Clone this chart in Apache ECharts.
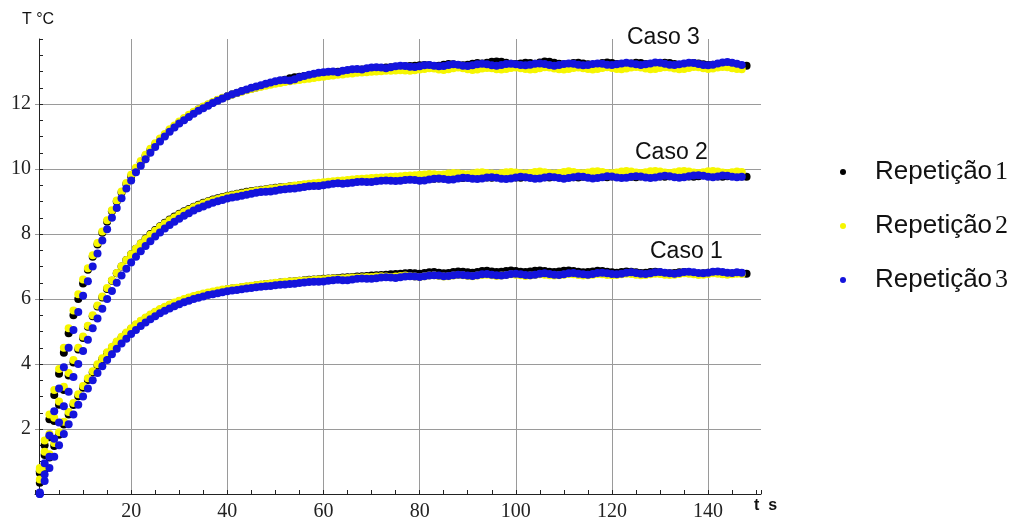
<!DOCTYPE html>
<html>
<head>
<meta charset="utf-8">
<script src="https://cdn.jsdelivr.net/npm/echarts@6/dist/echarts.min.js"></script>
<style>
html,body{margin:0;padding:0;background:#fff;}
#chart{width:1028px;height:523px;}
</style>
</head>
<body>
<div id="chart"></div>
<script>
// time of first sample (s), one sample per second
const T_START = 1;

const xTicks = [20, 40, 60, 80, 100, 120, 140];
const yTicks = [2, 4, 6, 8, 10, 12];
const repNames = ['Repetição 1', 'Repetição 2', 'Repetição 3'];
const caseLabels = ['Caso 1', 'Caso 2', 'Caso 3'];

// ---------- Caso 3 ----------
const caso3Rep1 = [
0.7,1.5,2.3,3.05,3.7,4.35,4.95,5.5,6.0,6.48,
6.9,7.3,7.68,8.04,8.38,8.7,9.0,9.28,9.54,9.78,
10.0,10.21,10.4,10.58,10.75,10.91,11.05,11.19,11.31,11.43,
11.54,11.64,11.74,11.83,11.91,11.98,12.05,12.12,12.18,12.24,
12.29,12.34,12.39,12.43,12.47,12.51,12.55,12.59,12.63,12.67,
12.71,12.75,12.79,12.82,12.84,12.86,12.88,12.9,12.92,12.94,
12.96,12.97,12.99,13.0,13.02,13.03,13.05,13.06,13.08,13.09,
13.1,13.11,13.12,13.13,13.14,13.15,13.16,13.17,13.18,13.19,
13.2,13.19,13.17,13.18,13.21,13.23,13.22,13.2,13.19,13.21,
13.24,13.26,13.25,13.27,13.3,13.31,13.3,13.27,13.24,13.23,
13.25,13.27,13.26,13.24,13.28,13.31,13.3,13.27,13.24,13.22,
13.23,13.26,13.27,13.25,13.22,13.21,13.23,13.26,13.28,13.26,
13.23,13.21,13.22,13.25,13.27,13.26,13.23,13.21,13.22,13.25,
13.27,13.26,13.23,13.2,13.21,13.24,13.26,13.25,13.22,13.2,
13.21,13.23,13.25,13.24,13.21,13.19,13.18,13.18];
const caso3Rep2 = [
0.8,1.65,2.45,3.2,3.85,4.5,5.1,5.65,6.15,6.6,
6.95,7.35,7.72,8.08,8.42,8.73,9.03,9.31,9.57,9.82,
10.04,10.25,10.44,10.62,10.79,10.94,11.08,11.22,11.34,11.46,
11.57,11.67,11.76,11.84,11.92,11.99,12.06,12.13,12.19,12.24,
12.29,12.34,12.38,12.42,12.46,12.5,12.53,12.56,12.59,12.62,
12.65,12.68,12.7,12.72,12.74,12.76,12.78,12.8,12.82,12.84,
12.86,12.88,12.9,12.91,12.93,12.94,12.96,12.97,12.98,12.99,
13.0,13.01,13.02,13.02,13.03,13.04,13.03,13.02,13.04,13.06,
13.08,13.1,13.09,13.06,13.05,13.07,13.1,13.12,13.1,13.07,
13.05,13.06,13.09,13.11,13.1,13.07,13.06,13.08,13.11,13.12,
13.1,13.08,13.06,13.07,13.1,13.13,13.12,13.09,13.07,13.06,
13.08,13.11,13.12,13.1,13.08,13.06,13.08,13.11,13.13,13.11,
13.08,13.07,13.09,13.12,13.14,13.12,13.09,13.07,13.08,13.11,
13.13,13.12,13.09,13.07,13.08,13.11,13.14,13.13,13.1,13.08,
13.09,13.12,13.14,13.13,13.1,13.08,13.07];
const caso3Rep3 = [
0.05,0.95,1.8,2.55,3.25,3.9,4.5,5.05,5.6,6.1,
6.55,7.0,7.4,7.8,8.15,8.5,8.8,9.1,9.4,9.65,
9.9,10.1,10.3,10.5,10.68,10.85,11.0,11.15,11.28,11.4,
11.5,11.6,11.7,11.79,11.87,11.95,12.03,12.1,12.17,12.24,
12.3,12.35,12.4,12.45,12.5,12.54,12.58,12.62,12.66,12.7,
12.73,12.74,12.72,12.76,12.82,12.86,12.9,12.93,12.96,12.98,
12.99,13.0,12.98,13.02,13.05,13.07,13.08,13.06,13.1,13.12,
13.13,13.12,13.1,13.13,13.16,13.18,13.17,13.15,13.14,13.16,
13.19,13.2,13.18,13.16,13.17,13.2,13.22,13.21,13.18,13.17,
13.19,13.22,13.24,13.22,13.19,13.18,13.2,13.23,13.24,13.22,
13.2,13.19,13.21,13.24,13.25,13.23,13.2,13.18,13.2,13.23,
13.25,13.24,13.21,13.19,13.2,13.23,13.25,13.24,13.21,13.2,
13.22,13.25,13.27,13.25,13.22,13.2,13.22,13.25,13.28,13.27,
13.24,13.21,13.2,13.22,13.25,13.27,13.26,13.23,13.2,13.19,
13.21,13.25,13.28,13.29,13.27,13.24,13.2];

// ---------- Caso 2 ----------
const caso2Rep1 = [
0.65,1.2,1.75,2.25,2.75,3.2,3.65,4.05,4.45,4.8,
5.15,5.47,5.77,6.05,6.31,6.56,6.79,7.0,7.2,7.38,
7.55,7.71,7.86,8.0,8.12,8.24,8.35,8.45,8.54,8.62,
8.7,8.77,8.84,8.9,8.96,9.01,9.06,9.1,9.14,9.18,
9.21,9.24,9.27,9.3,9.32,9.34,9.36,9.38,9.4,9.42,
9.44,9.45,9.47,9.48,9.5,9.51,9.52,9.54,9.55,9.56,
9.57,9.58,9.6,9.61,9.62,9.63,9.63,9.64,9.65,9.66,
9.67,9.68,9.68,9.69,9.7,9.71,9.7,9.69,9.71,9.72,
9.73,9.72,9.7,9.71,9.74,9.76,9.75,9.73,9.72,9.74,
9.77,9.78,9.76,9.74,9.73,9.75,9.78,9.79,9.77,9.74,
9.73,9.75,9.78,9.8,9.78,9.75,9.74,9.76,9.79,9.8,
9.78,9.75,9.74,9.76,9.79,9.81,9.79,9.76,9.75,9.77,
9.8,9.81,9.79,9.76,9.75,9.77,9.8,9.82,9.8,9.77,
9.76,9.78,9.81,9.82,9.8,9.77,9.76,9.78,9.81,9.82,
9.8,9.77,9.76,9.78,9.8,9.79,9.77,9.76];
const caso2Rep2 = [
0.75,1.3,1.85,2.35,2.85,3.3,3.72,4.12,4.5,4.85,
5.18,5.5,5.8,6.08,6.34,6.58,6.8,7.01,7.2,7.38,
7.55,7.71,7.85,7.98,8.1,8.22,8.32,8.42,8.51,8.6,
8.68,8.75,8.82,8.88,8.94,8.99,9.04,9.08,9.12,9.16,
9.19,9.22,9.25,9.28,9.31,9.33,9.35,9.37,9.39,9.41,
9.43,9.45,9.47,9.49,9.51,9.53,9.55,9.56,9.58,9.59,
9.61,9.62,9.64,9.65,9.66,9.68,9.69,9.7,9.71,9.72,
9.73,9.74,9.75,9.76,9.77,9.78,9.79,9.8,9.81,9.82,
9.83,9.85,9.84,9.82,9.83,9.86,9.88,9.87,9.85,9.84,
9.86,9.89,9.9,9.88,9.86,9.85,9.87,9.9,9.91,9.89,
9.87,9.86,9.88,9.91,9.92,9.9,9.87,9.86,9.88,9.91,
9.93,9.91,9.88,9.87,9.89,9.92,9.93,9.91,9.88,9.87,
9.89,9.92,9.94,9.92,9.89,9.88,9.9,9.93,9.94,9.92,
9.89,9.88,9.9,9.93,9.94,9.92,9.89,9.88,9.9,9.93,
9.94,9.92,9.89,9.88,9.9,9.92,9.91];
const caso2Rep3 = [
0.0,0.6,1.15,1.7,2.2,2.7,3.15,3.6,4.0,4.4,
4.75,5.1,5.4,5.7,6.0,6.25,6.5,6.72,6.93,7.12,
7.3,7.47,7.63,7.78,7.92,8.05,8.17,8.28,8.38,8.47,
8.56,8.64,8.72,8.79,8.85,8.91,8.96,9.01,9.05,9.09,
9.12,9.15,9.18,9.21,9.24,9.27,9.29,9.3,9.31,9.33,
9.36,9.38,9.39,9.4,9.42,9.45,9.47,9.48,9.48,9.5,
9.52,9.55,9.56,9.55,9.56,9.58,9.6,9.61,9.6,9.6,
9.62,9.64,9.65,9.64,9.63,9.64,9.66,9.67,9.66,9.64,
9.65,9.68,9.7,9.71,9.69,9.67,9.68,9.71,9.73,9.72,
9.7,9.69,9.71,9.74,9.75,9.73,9.7,9.69,9.71,9.74,
9.76,9.75,9.72,9.7,9.71,9.74,9.76,9.75,9.72,9.7,
9.72,9.75,9.77,9.76,9.73,9.71,9.72,9.75,9.78,9.77,
9.74,9.72,9.73,9.76,9.78,9.77,9.74,9.72,9.74,9.77,
9.79,9.78,9.75,9.73,9.75,9.78,9.8,9.81,9.79,9.76,
9.75,9.77,9.8,9.79,9.76,9.75,9.76];

// ---------- Caso 1 ----------
const caso1Rep1 = [
0.35,0.75,1.12,1.48,1.82,2.14,2.45,2.74,3.01,3.27,
3.51,3.74,3.95,4.15,4.33,4.5,4.66,4.81,4.95,5.08,
5.2,5.31,5.41,5.5,5.59,5.67,5.74,5.81,5.87,5.93,
5.98,6.03,6.07,6.11,6.15,6.18,6.21,6.24,6.27,6.3,
6.32,6.34,6.36,6.38,6.4,6.42,6.44,6.46,6.47,6.49,
6.51,6.52,6.54,6.55,6.56,6.58,6.59,6.6,6.61,6.62,
6.63,6.64,6.65,6.66,6.67,6.68,6.69,6.7,6.71,6.72,
6.73,6.74,6.75,6.76,6.77,6.78,6.79,6.8,6.79,6.78,
6.8,6.82,6.83,6.81,6.79,6.8,6.83,6.85,6.84,6.82,
6.81,6.83,6.86,6.87,6.85,6.83,6.84,6.86,6.88,6.86,
6.84,6.83,6.85,6.87,6.88,6.86,6.84,6.83,6.85,6.87,
6.88,6.86,6.84,6.82,6.83,6.85,6.87,6.86,6.84,6.82,
6.81,6.83,6.85,6.84,6.82,6.8,6.81,6.83,6.84,6.82,
6.8,6.79,6.8,6.82,6.83,6.81,6.79,6.78,6.79,6.81,
6.82,6.8,6.78,6.77,6.78,6.8,6.79,6.78];
const caso1Rep2 = [
0.45,0.85,1.22,1.57,1.9,2.22,2.52,2.8,3.07,3.32,
3.56,3.78,3.99,4.18,4.36,4.53,4.69,4.84,4.97,5.1,
5.22,5.33,5.43,5.52,5.61,5.69,5.76,5.83,5.89,5.95,
6.0,6.05,6.09,6.13,6.17,6.2,6.23,6.26,6.29,6.31,
6.33,6.35,6.37,6.39,6.41,6.43,6.45,6.46,6.48,6.5,
6.51,6.53,6.54,6.55,6.56,6.57,6.58,6.59,6.6,6.61,
6.62,6.63,6.63,6.64,6.65,6.66,6.66,6.67,6.68,6.68,
6.69,6.7,6.69,6.68,6.69,6.71,6.72,6.71,6.69,6.68,
6.7,6.72,6.73,6.71,6.69,6.7,6.72,6.74,6.73,6.71,
6.7,6.72,6.74,6.75,6.73,6.71,6.72,6.74,6.76,6.75,
6.73,6.71,6.72,6.74,6.76,6.75,6.73,6.72,6.73,6.75,
6.77,6.76,6.74,6.72,6.73,6.75,6.77,6.76,6.74,6.73,
6.74,6.76,6.78,6.77,6.75,6.73,6.74,6.76,6.78,6.77,
6.75,6.74,6.75,6.77,6.79,6.78,6.76,6.74,6.75,6.77,
6.79,6.78,6.76,6.75,6.76,6.78,6.77];
const caso1Rep3 = [
0.0,0.4,0.8,1.15,1.5,1.85,2.15,2.45,2.75,3.0,
3.25,3.5,3.72,3.93,4.12,4.3,4.47,4.63,4.78,4.92,
5.05,5.17,5.28,5.38,5.47,5.56,5.64,5.71,5.78,5.84,
5.9,5.95,6.0,6.04,6.08,6.12,6.15,6.18,6.21,6.24,
6.26,6.28,6.3,6.32,6.34,6.36,6.38,6.39,6.4,6.42,
6.44,6.45,6.46,6.47,6.49,6.51,6.52,6.53,6.53,6.54,
6.56,6.58,6.59,6.58,6.58,6.6,6.62,6.63,6.62,6.62,
6.64,6.66,6.67,6.66,6.65,6.67,6.69,6.7,6.69,6.68,
6.7,6.72,6.73,6.72,6.7,6.71,6.73,6.75,6.74,6.72,
6.71,6.73,6.76,6.77,6.75,6.73,6.72,6.74,6.77,6.78,
6.76,6.74,6.73,6.75,6.78,6.79,6.77,6.75,6.74,6.76,
6.79,6.8,6.78,6.76,6.75,6.77,6.8,6.81,6.79,6.77,
6.76,6.78,6.81,6.82,6.8,6.78,6.77,6.79,6.82,6.83,
6.81,6.79,6.78,6.8,6.83,6.84,6.82,6.8,6.79,6.81,
6.84,6.85,6.83,6.81,6.8,6.82,6.81];

const repColors = ['#000000', '#f6f600', '#1414dc'];
const repData = [
  [caso1Rep1, caso2Rep1, caso3Rep1],
  [caso1Rep2, caso2Rep2, caso3Rep2],
  [caso1Rep3, caso2Rep3, caso3Rep3]
];

function toPoints(arr) { return arr.map((v, i) => [T_START + i, v]); }

const series = [];
repData.forEach((cases, r) => {
  cases.forEach(arr => {
    series.push({
      type: 'scatter',
      name: repNames[r],
      data: toPoints(arr),
      symbol: 'circle',
      symbolSize: 8,
      itemStyle: { color: repColors[r], opacity: 1 },
      xAxisIndex: 0,
      yAxisIndex: 0,
      silent: true,
      z: 2 + r
    });
  });
});

const serif = '"Liberation Serif", "Times New Roman", serif';
const sans = '"Liberation Sans", Arial, sans-serif';
const axisColor = '#222';
const gridColor = '#9a9a9a';

const chart = echarts.init(document.getElementById('chart'), null, { renderer: 'canvas' });
chart.setOption({
  animation: false,
  backgroundColor: '#ffffff',
  grid: { left: 35, right: 267, top: 39, bottom: 29, containLabel: false },
  xAxis: [
    {
      type: 'value', min: 0, max: 151, interval: 20, position: 'bottom',
      axisLine: { show: true, onZero: false, lineStyle: { color: axisColor, width: 1 } },
      axisTick: { show: false },
      axisLabel: {
        show: true, showMinLabel: false, showMaxLabel: false, margin: 8,
        fontFamily: serif, fontSize: 20, color: '#222',
        formatter: v => (xTicks.indexOf(v) >= 0 ? String(v) : '')
      },
      splitLine: { show: true, showMinLine: false, showMaxLine: false, lineStyle: { color: gridColor, width: 1 } }
    },
    {
      type: 'value', min: 0, max: 151, interval: 5, position: 'bottom',
      axisLine: { show: false },
      axisTick: { show: true, inside: true, length: 4, lineStyle: { color: axisColor } },
      axisLabel: { show: false },
      splitLine: { show: false }
    }
  ],
  yAxis: {
    type: 'value', min: 0, max: 14, interval: 2, offset: -4,
    axisLine: { show: true, onZero: false, lineStyle: { color: axisColor, width: 1 } },
    axisTick: { show: true, inside: true, length: 4, lineStyle: { color: axisColor } },
    minorTick: { show: true, splitNumber: 4, length: 4, lineStyle: { color: axisColor } },
    axisLabel: {
      show: true, showMinLabel: false, showMaxLabel: false, margin: 8,
      fontFamily: serif, fontSize: 20, color: '#222',
      formatter: v => (yTicks.indexOf(v) >= 0 ? String(v) : '')
    },
    splitLine: { show: true, showMinLine: false, showMaxLine: false, lineStyle: { color: gridColor, width: 1 } }
  },
  legend: {
    orient: 'vertical',
    left: 840, top: 159,
    padding: 0,
    itemGap: 28,
    itemWidth: 36, itemHeight: 6,
    icon: 'circle',
    selectedMode: false,
    data: repNames,
    formatter: name => {
      const parts = name.split(' ');
      return '{a|' + parts[0] + '}{b|' + parts[1] + '}';
    },
    textStyle: {
      rich: {
        a: { fontFamily: sans, fontSize: 26, color: '#111', lineHeight: 30, padding: [0, 0, 0, 9] },
        b: { fontFamily: serif, fontSize: 26, color: '#111', lineHeight: 30, padding: [0, 0, 0, 3] }
      }
    }
  },
  graphic: [
    { type: 'text', left: 22, top: 12, style: { text: 'T °C', font: '16px ' + sans, fill: '#111' } },
    { type: 'text', left: 754, top: 498, style: { text: 't  s', font: 'bold 16px ' + sans, fill: '#111' } },
    { type: 'text', left: 650, top: 240, style: { text: caseLabels[0], font: '23px ' + sans, fill: '#111' } },
    { type: 'text', left: 635, top: 141, style: { text: caseLabels[1], font: '23px ' + sans, fill: '#111' } },
    { type: 'text', left: 627, top: 26, style: { text: caseLabels[2], font: '23px ' + sans, fill: '#111' } }
  ],
  series: series
});
</script>
</body>
</html>
